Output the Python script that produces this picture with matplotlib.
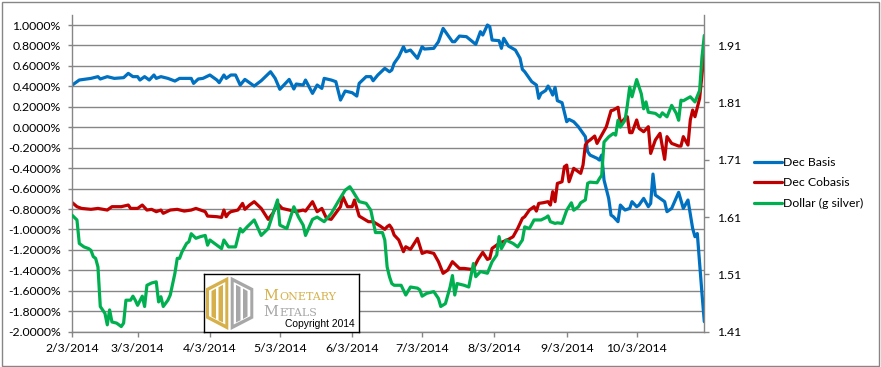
import matplotlib
matplotlib.use('Agg')
import matplotlib.pyplot as plt
import pandas as pd
from matplotlib.patches import Rectangle, Polygon
from matplotlib.ticker import FuncFormatter

# ---------------- data ----------------
basis_dates = ['2/3', '2/6', '2/11', '2/14', '2/15', '2/18', '2/21', '2/25', '2/27', '3/1', '3/3', '3/4', '3/6', '3/8',
               '3/10', '3/11', '3/13', '3/16', '3/19', '3/21', '3/26', '3/27', '3/29', '3/31', '4/3', '4/6', '4/7',
               '4/9', '4/10', '4/12', '4/14', '4/16', '4/18', '4/22', '4/25', '4/29', '5/1', '5/3', '5/7', '5/9',
               '5/10', '5/13', '5/14', '5/17', '5/19', '5/21', '5/22', '5/25', '5/27', '5/29', '5/31', '6/3', '6/5',
               '6/6', '6/9', '6/11', '6/12', '6/14', '6/17', '6/19', '6/20', '6/21', '6/23', '6/25', '6/26', '6/28',
               '7/1', '7/3', '7/4', '7/8', '7/10', '7/12', '7/16', '7/17', '7/19', '7/22', '7/26', '7/28', '7/29',
               '7/31', '8/1', '8/2', '8/5', '8/6', '8/7', '8/9', '8/12', '8/14', '8/15', '8/16', '8/19', '8/21',
               '8/22', '8/23', '8/25', '8/26', '8/27', '8/28', '8/29', '8/30', '8/31', '9/1', '9/3', '9/4', '9/6',
               '9/8', '9/9', '9/11', '9/12', '9/13', '9/16', '9/17', '9/18', '9/19', '9/21', '9/22', '9/23', '9/25',
               '9/26', '9/28', '9/30', '10/1', '10/3', '10/4', '10/6', '10/8', '10/9', '10/10', '10/11', '10/12',
               '10/13', '10/15', '10/16', '10/18', '10/21', '10/23', '10/25', '10/27', '10/28', '10/29', '10/30',
               '10/31', '11/1']
dec_basis = [0.413, 0.462, 0.478, 0.495, 0.472, 0.495, 0.478, 0.485, 0.527, 0.495, 0.495, 0.462, 0.495, 0.462,
             0.511, 0.478, 0.495, 0.478, 0.452, 0.478, 0.478, 0.429, 0.472, 0.478, 0.511, 0.462, 0.436,
             0.511, 0.478, 0.511, 0.511, 0.413, 0.468, 0.403, 0.455, 0.543, 0.478, 0.371, 0.468, 0.374,
             0.423, 0.413, 0.462, 0.331, 0.413, 0.380, 0.478, 0.462, 0.446, 0.266, 0.354, 0.338, 0.305,
             0.429, 0.495, 0.495, 0.455, 0.511, 0.576, 0.543, 0.560, 0.625, 0.690, 0.788, 0.739, 0.755,
             0.674, 0.788, 0.765, 0.772, 0.837, 0.967, 0.837, 0.837, 0.892, 0.886, 0.811, 0.935, 0.902,
             1.000, 0.984, 0.853, 0.847, 0.772, 0.870, 0.795, 0.755, 0.674, 0.566, 0.543, 0.446, 0.413,
             0.283, 0.331, 0.360, 0.403, 0.364, 0.315, 0.390, 0.260, 0.250, 0.240, 0.054, 0.077, 0.054,
             0.005, -0.027, -0.092, -0.239, -0.272, -0.304, -0.321, -0.272, -0.516, -0.696, -0.859, -0.875, -0.924,
             -0.761, -0.810, -0.794, -0.728, -0.777, -0.761, -0.696, -0.777, -0.745, -0.458, -0.663, -0.679,
             -0.696, -0.728, -0.826, -0.794, -0.637, -0.794, -0.712, -0.989, -1.071, -1.040, -1.332,
             -1.625, -1.902]

cobasis_dates = ['2/3', '2/5', '2/7', '2/11', '2/14', '2/18', '2/20', '2/24', '2/27', '2/28', '3/3', '3/5', '3/7',
                 '3/9', '3/11', '3/13', '3/14', '3/17', '3/20', '3/23', '3/26', '3/28', '3/30', '4/1', '4/2',
                 '4/6', '4/8', '4/9', '4/10', '4/11', '4/12', '4/15', '4/17', '4/18', '4/20', '4/22', '4/25',
                 '4/28', '4/30', '5/2', '5/4', '5/7', '5/10', '5/13', '5/14', '5/17', '5/19', '5/21', '5/23',
                 '5/25', '5/29', '5/30', '6/1', '6/3', '6/4', '6/6', '6/10', '6/12', '6/15', '6/17', '6/18',
                 '6/19', '6/20', '6/21', '6/23', '6/25', '6/26', '6/28', '7/1', '7/3', '7/5', '7/8', '7/10',
                 '7/12', '7/14', '7/16', '7/19', '7/21', '7/24', '7/25', '7/27', '7/29', '7/31', '8/1', '8/2',
                 '8/5', '8/9', '8/11', '8/13', '8/15', '8/16', '8/18', '8/20', '8/21', '8/22', '8/24', '8/26',
                 '8/27', '8/28', '8/29', '8/30', '8/31', '9/1', '9/2', '9/3', '9/4', '9/6', '9/8', '9/9', '9/10',
                 '9/11', '9/12', '9/13', '9/15', '9/16', '9/18', '9/20', '9/22', '9/23', '9/25', '9/26', '9/28',
                 '9/29', '9/30', '10/1', '10/3', '10/4', '10/6', '10/8', '10/9', '10/11', '10/12', '10/13',
                 '10/15', '10/16', '10/18', '10/21', '10/22', '10/23', '10/25', '10/26', '10/27', '10/28',
                 '10/30', '11/1']
dec_cobasis = [-0.738, -0.777, -0.794, -0.803, -0.794, -0.810, -0.777, -0.777, -0.761, -0.794, -0.794, -0.761, -0.810,
               -0.803, -0.826, -0.810, -0.842, -0.810, -0.803, -0.820, -0.810, -0.794, -0.810, -0.826, -0.869,
               -0.875, -0.882, -0.810, -0.875, -0.842, -0.826, -0.810, -0.745, -0.803, -0.761, -0.728, -0.794,
               -0.901, -0.842, -0.745, -0.794, -0.810, -0.826, -0.810, -0.820, -0.728, -0.826, -0.794, -0.891,
               -0.901, -0.777, -0.679, -0.777, -0.777, -0.712, -0.869, -0.924, -0.924, -0.966, -0.999, -0.973,
               -0.957, -0.989, -1.054, -1.103, -1.217, -1.169, -1.195, -1.087, -1.234, -1.217, -1.234, -1.315,
               -1.429, -1.397, -1.315, -1.381, -1.381, -1.390, -1.381, -1.293, -1.224, -1.293, -1.283, -1.185,
               -1.136, -1.097, -1.071, -0.989, -0.891, -0.875, -0.810, -0.777, -0.820, -0.745, -0.738, -0.728,
               -0.761, -0.630, -0.728, -0.549, -0.542, -0.533, -0.386, -0.370, -0.533, -0.402, -0.435, -0.451, -0.370,
               -0.174, -0.141, -0.125, -0.086, -0.158, -0.076, 0.005, 0.162, 0.168, 0.195, 0.038, 0.087,
               0.103, -0.053, -0.053, 0.071, -0.011, -0.044, 0.005, -0.256, -0.125, -0.092, -0.060,
               -0.314, -0.092, -0.158, -0.184, -0.184, -0.092, -0.174, 0.071, 0.168, 0.103,
               0.283, 0.739]

dollar_dates = ['2/3', '2/5', '2/6', '2/8', '2/10', '2/11', '2/12', '2/13', '2/14', '2/15', '2/16', '2/17', '2/18',
                '2/19', '2/20', '2/22', '2/24', '2/25', '2/26', '2/28', '3/1', '3/2', '3/3', '3/5', '3/6', '3/7',
                '3/9', '3/11', '3/12', '3/13', '3/14', '3/16', '3/17', '3/19', '3/20', '3/21', '3/22', '3/24',
                '3/25', '3/26', '3/28', '3/30', '4/1', '4/2', '4/3', '4/5', '4/8', '4/9', '4/11', '4/14', '4/16',
                '4/17', '4/19', '4/22', '4/25', '4/28', '5/2', '5/3', '5/6', '5/9', '5/11', '5/13', '5/14',
                '5/17', '5/19', '5/22', '5/25', '5/28', '5/31', '6/2', '6/3', '6/6', '6/9', '6/11', '6/13',
                '6/16', '6/17', '6/18', '6/19', '6/20', '6/21', '6/24', '6/26', '6/28', '7/1', '7/2', '7/3',
                '7/5', '7/8', '7/10', '7/11', '7/13', '7/15', '7/16', '7/17', '7/18', '7/21', '7/23', '7/25',
                '7/26', '7/28', '7/31', '8/2', '8/4', '8/5', '8/6', '8/8', '8/11', '8/13', '8/15', '8/16',
                '8/18', '8/20', '8/23', '8/25', '8/26', '8/27', '8/29', '8/30', '9/1', '9/3', '9/5', '9/6',
                '9/8', '9/9', '9/11', '9/12', '9/13', '9/16', '9/17', '9/18', '9/19', '9/21', '9/23', '9/24',
                '9/25', '9/26', '9/28', '9/29', '9/30', '10/1', '10/3', '10/5', '10/6', '10/7', '10/8', '10/11',
                '10/13', '10/14', '10/16', '10/18', '10/20', '10/21', '10/22', '10/23', '10/26', '10/28',
                '10/30', '10/31', '11/1']
dollar_g_silver = [1.613, 1.605, 1.564, 1.558, 1.555, 1.552, 1.541, 1.538, 1.523, 1.454, 1.448, 1.442, 1.422,
                   1.448, 1.427, 1.425, 1.419, 1.425, 1.465, 1.465, 1.472, 1.465, 1.456, 1.472, 1.454, 1.491,
                   1.495, 1.497, 1.462, 1.471, 1.454, 1.465, 1.474, 1.512, 1.538, 1.538, 1.549, 1.564,
                   1.567, 1.581, 1.573, 1.576, 1.578, 1.561, 1.570, 1.564, 1.555, 1.570, 1.558, 1.558, 1.590,
                   1.584, 1.593, 1.605, 1.578, 1.590, 1.640, 1.596, 1.590, 1.628, 1.610, 1.596, 1.578,
                   1.606, 1.610, 1.602, 1.616, 1.637, 1.657, 1.663, 1.657, 1.637, 1.634, 1.622, 1.583,
                   1.583, 1.570, 1.523, 1.506, 1.494, 1.491, 1.491, 1.474, 1.488, 1.486, 1.483, 1.472,
                   1.477, 1.480, 1.468, 1.454, 1.459, 1.488, 1.508, 1.474, 1.494, 1.491, 1.488, 1.529,
                   1.506, 1.515, 1.512, 1.532, 1.544, 1.576, 1.555, 1.570, 1.564, 1.558, 1.570, 1.593,
                   1.590, 1.605, 1.605, 1.609, 1.612, 1.602, 1.599, 1.600, 1.599, 1.622, 1.635, 1.622,
                   1.628, 1.635, 1.640, 1.669, 1.671, 1.670, 1.677, 1.683, 1.741, 1.750, 1.756, 1.753,
                   1.779, 1.767, 1.779, 1.805, 1.837, 1.820, 1.850, 1.825, 1.799, 1.811, 1.793, 1.791,
                   1.785, 1.792, 1.785, 1.805, 1.791, 1.779, 1.814, 1.813, 1.820, 1.811,
                   1.831, 1.889, 1.927]

series_labels = ['Dec Basis', 'Dec Cobasis', 'Dollar (g silver)']
x_tick_labels = ['2/3/2014', '3/3/2014', '4/3/2014', '5/3/2014', '6/3/2014', '7/3/2014', '8/3/2014', '9/3/2014',
                 '10/3/2014']
left_ticks = [-2.0, -1.8, -1.6, -1.4, -1.2, -1.0, -0.8, -0.6, -0.4, -0.2, 0.0, 0.2, 0.4, 0.6, 0.8, 1.0]
right_ticks = [1.41, 1.51, 1.61, 1.71, 1.81, 1.91]

# ---------------- styling ----------------
plt.rcParams['font.family'] = ['Lato', 'DejaVu Sans']
W, H = 881, 367
GRAY = '#868686'
fig = plt.figure(figsize=(W / 100, H / 100), dpi=100)


def px_rect(x0, y0, x1, y1):
    return [x0 / W, 1 - y1 / H, (x1 - x0) / W, (y1 - y0) / H]


def to_dt(lst):
    return pd.to_datetime([s + '/2014' for s in lst], format='%m/%d/%Y')


ax = fig.add_axes(px_rect(72.3, 15, 704.3, 331.7))
ax2 = ax.twinx()

lw = 2.3
l1, = ax.plot(to_dt(basis_dates), dec_basis, color='#0070C0', lw=lw, solid_joinstyle='round',
              solid_capstyle='round', label=series_labels[0])
l2, = ax.plot(to_dt(cobasis_dates), dec_cobasis, color='#C00000', lw=lw, solid_joinstyle='round',
              solid_capstyle='round', label=series_labels[1])
l3, = ax2.plot(to_dt(dollar_dates), dollar_g_silver, color='#00B050', lw=lw, solid_joinstyle='round',
               solid_capstyle='round', label=series_labels[2])

ax.set_xlim(pd.Timestamp('2014-02-03'), pd.Timestamp('2014-11-01'))
ax.set_xticks(to_dt([s[:-5] for s in x_tick_labels]))
ax.set_xticklabels(x_tick_labels)

ax.set_ylim(-2.0, 1.098)
ax.set_yticks(left_ticks)
ax.yaxis.set_major_formatter(FuncFormatter(lambda v, p: f'{v:.4f}%'))
ax2.set_ylim(1.41, 1.9627)
ax2.set_yticks(right_ticks)
ax2.yaxis.set_major_formatter(FuncFormatter(lambda v, p: f'{v:.2f}'))

ax.yaxis.grid(True, color=GRAY, lw=1.0)
ax.set_axisbelow(True)
ax2.patch.set_visible(False)

for a in (ax, ax2):
    a.spines['top'].set_visible(False)
    for s in a.spines.values():
        s.set_color(GRAY)
        s.set_linewidth(1.0)
ax.spines['right'].set_visible(False)
ax2.spines['left'].set_visible(False)
ax2.spines['bottom'].set_visible(False)

ax.tick_params(axis='y', direction='out', length=3, width=1, color=GRAY, pad=5.5, labelsize=8.8,
               labelcolor='black')
ax.tick_params(axis='x', direction='out', length=3.6, width=1, color=GRAY, pad=4.5, labelsize=8.8,
               labelcolor='black')
ax2.tick_params(axis='y', direction='out', length=3.6, width=1, color=GRAY, pad=5.5, labelsize=8.8,
                labelcolor='black')

fs_leg = 8.8
leg = ax2.legend([l1, l2, l3], series_labels, loc='center left',
                 bbox_to_anchor=(754 / W, 1 - 183 / H), bbox_transform=fig.transFigure,
                 frameon=False, fontsize=fs_leg, handlelength=27.5 / (fs_leg * 100 / 72),
                 handletextpad=0.12, labelspacing=0.78, borderpad=0, borderaxespad=0)

# outer chart border
fig.patches.append(Rectangle((1.5 / W, 1 - 365.5 / H), (878.5 - 1.5) / W, (365.5 - 1.5) / H,
                             transform=fig.transFigure, fill=False, edgecolor=GRAY, lw=1.0))

# ---------------- logo box ----------------
lax = fig.add_axes(px_rect(204, 274, 359, 332))
lax.set_zorder(5)
lax.set_xlim(0, 155)
lax.set_ylim(58, 0)
lax.set_xticks([])
lax.set_yticks([])
lax.set_facecolor('white')
for s in lax.spines.values():
    s.set_color('black')
    s.set_linewidth(1.0)

GOLD = '#D6B04A'
LGRAY = '#A7A7A7'
lax.add_patch(Polygon([(2, 14.3), (24.3, 2.7), (24.3, 56), (2, 44.3)], closed=True, fc=GOLD, ec='none'))
lax.add_patch(Polygon([(26.7, 2.7), (49.3, 14.3), (49.3, 44.3), (26.7, 56)], closed=True, fc=LGRAY, ec='none'))
lax.add_patch(Polygon([(5, 16.5), (21.3, 8.0), (21.3, 50.5), (5, 42.2)], closed=True, fc='white', ec='none'))
lax.add_patch(Polygon([(29.7, 8.0), (46.3, 16.5), (46.3, 42.2), (29.7, 50.5)], closed=True, fc='white', ec='none'))
lax.add_patch(Polygon([(7.5, 17), (12, 14.5), (12, 45), (7.5, 42.5)], closed=True, fc=GOLD, ec='none'))
lax.add_patch(Polygon([(14.5, 13.2), (19, 10.8), (19, 48.5), (14.5, 46.3)], closed=True, fc=GOLD, ec='none'))
lax.add_patch(Polygon([(32, 10.8), (36.5, 13.2), (36.5, 46.3), (32, 48.5)], closed=True, fc=LGRAY, ec='none'))
lax.add_patch(Polygon([(39, 14.5), (43.5, 17), (43.5, 42.5), (39, 45)], closed=True, fc=LGRAY, ec='none'))

serif = ['DejaVu Serif', 'Liberation Serif']
t1 = lax.text(59, 25.5, 'M', color=GOLD, fontsize=10.5, family=serif, va='baseline', ha='left')
lax.annotate('ONETARY', xy=(1.0, 0.0), xycoords=t1, xytext=(0.8, 0.6), textcoords='offset points',
             color=GOLD, fontsize=8.0, family=serif, va='bottom', ha='left')
t2 = lax.text(59, 41.5, 'M', color=LGRAY, fontsize=10.5, family=serif, va='baseline', ha='left')
lax.annotate('ETALS', xy=(1.0, 0.0), xycoords=t2, xytext=(0.8, 0.6), textcoords='offset points',
             color=LGRAY, fontsize=8.0, family=serif, va='bottom', ha='left')
lax.text(151, 53.3, 'Copyright 2014', color='black', fontsize=7.4, family=['Liberation Sans', 'DejaVu Sans'],
         va='baseline', ha='right')

fig.savefig('out.png', dpi=100)
